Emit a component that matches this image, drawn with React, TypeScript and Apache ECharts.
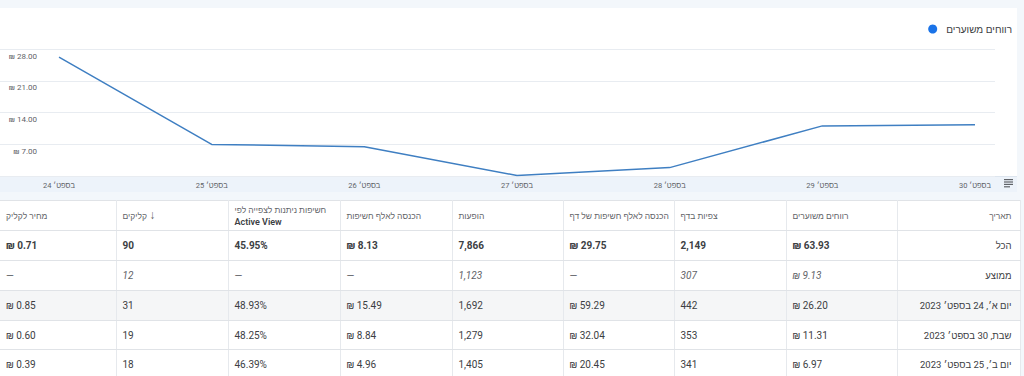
import React, { useEffect, useRef } from "react";
import * as echarts from "echarts";

const FONT = 'Roboto, "Liberation Sans", Arial, sans-serif';

// ---- chart data ----
const seriesName = "רווחים משוערים";
const chartDates = ["24 בספט׳", "25 בספט׳", "26 בספט׳", "27 בספט׳", "28 בספט׳", "29 בספט׳", "30 בספט׳"];
const earnings = [26.2, 6.97, 6.45, 0.1, 1.85, 11.05, 11.31];
const yMin = 0;
const yMax = 28;
const yStep = 7;

// ---- table data (right-to-left column order) ----
const tableHeaders = [
  "תאריך",
  "רווחים משוערים",
  "צפיות בדף",
  "הכנסה לאלף חשיפות של דף",
  "הופעות",
  "הכנסה לאלף חשיפות",
  "חשיפות ניתנות לצפייה לפי|Active View",
  "קליקים ↓",
  "מחיר לקליק",
];
const rowTotal = ["הכל", "₪ 63.93", "2,149", "₪ 29.75", "7,866", "₪ 8.13", "45.95%", "90", "₪ 0.71"];
const rowAverage = ["ממוצע", "₪ 9.13", "307", "—", "1,123", "—", "—", "12", "—"];
const rowSep24 = ["יום א׳, 24 בספט׳ 2023", "₪ 26.20", "442", "₪ 59.29", "1,692", "₪ 15.49", "48.93%", "31", "₪ 0.85"];
const rowSep30 = ["שבת, 30 בספט׳ 2023", "₪ 11.31", "353", "₪ 32.04", "1,279", "₪ 8.84", "48.25%", "19", "₪ 0.60"];
const rowSep25 = ["יום ב׳, 25 בספט׳ 2023", "₪ 6.97", "341", "₪ 20.45", "1,405", "₪ 4.96", "46.39%", "18", "₪ 0.39"];

// column widths from right to left
const colWidths = [123, 111, 112, 111, 111, 112, 112, 112, 116];

function Chart() {
  const ref = useRef<HTMLDivElement>(null);
  useEffect(() => {
    if (!ref.current) return;
    const chart = echarts.init(ref.current, undefined, { renderer: "svg" });
    chart.setOption({
      animation: false,
      textStyle: { fontFamily: FONT },
      legend: {
        right: 7,
        top: 19,
        icon: "circle",
        itemWidth: 9,
        itemHeight: 9,
        textStyle: { fontSize: 10, color: "#3c4043", padding: [0, 0, 0, 4] },
        data: [seriesName],
      },
      grid: { left: 0, right: 29, top: 49, bottom: 24 },
      xAxis: {
        type: "value",
        min: -0.3865,
        max: 6.131,
        axisLine: { show: false },
        axisTick: { show: false },
        splitLine: { show: false },
        axisLabel: {
          customValues: chartDates.map((_, i) => i),
          formatter: (v: number) => {
            const r = Math.round(v);
            return Math.abs(v - r) < 1e-6 && r >= 0 && r < chartDates.length ? chartDates[r] : "";
          },
          fontSize: 7.5,
          color: "#5f6368",
          margin: 5,
          showMinLabel: true,
          showMaxLabel: true,
        },
      },
      yAxis: {
        type: "value",
        min: yMin,
        max: yMax,
        interval: yStep,
        axisLine: { show: false },
        axisTick: { show: false },
        splitLine: { lineStyle: { color: "#e8ecf1", width: 1 } },
        axisLabel: {
          inside: true,
          align: "right",
          margin: 37,
          verticalAlign: "top",
          padding: [3, 0, 0, 0],
          fontSize: 8,
          color: "#5f6368",
          formatter: (v: number) => (v === 0 ? "" : "₪ " + v.toFixed(2)),
        },
      },
      series: [
        {
          type: "line",
          name: seriesName,
          data: earnings.map((v, i) => [i, v]),
          symbol: "none",
          showSymbol: false,
          lineStyle: { color: "#3f7fc2", width: 1.5 },
          itemStyle: { color: "#1a73e8" },
        },
      ],
      graphic: [
        {
          type: "group",
          left: 1004,
          top: 179,
          children: [
            { type: "rect", shape: { x: 0, y: 0, width: 9, height: 1.2 }, style: { fill: "#5f6368" } },
            { type: "rect", shape: { x: 0, y: 2.4, width: 9, height: 1.2 }, style: { fill: "#5f6368" } },
            { type: "rect", shape: { x: 0, y: 4.8, width: 9, height: 1.2 }, style: { fill: "#5f6368" } },
            { type: "rect", shape: { x: 0, y: 7.2, width: 6, height: 1.2 }, style: { fill: "#5f6368" } },
          ],
        },
      ],
    });
    return () => chart.dispose();
  }, []);
  return <div ref={ref} style={{ position: "absolute", left: 0, top: 0, width: 1024, height: 200 }} />;
}

const rows = [
  { cells: rowTotal, bold: true, italic: false, bg: "#ffffff", h: 30 },
  { cells: rowAverage, bold: false, italic: true, bg: "#ffffff", h: 30 },
  { cells: rowSep24, bold: false, italic: false, bg: "#f5f6f7", h: 30 },
  { cells: rowSep30, bold: false, italic: false, bg: "#ffffff", h: 29 },
  { cells: rowSep25, bold: false, italic: false, bg: "#ffffff", h: 30 },
];

function headerContent(text: string) {
  const parts = text.split("|");
  if (parts[1]) {
    return (
      <>
        {parts[0]}
        <br />
        <span style={{ fontWeight: 600, color: "#3c4043", fontSize: 9 }}>{parts[1]}</span>
      </>
    );
  }
  if (text.endsWith("↓")) {
    return (
      <>
        {text.slice(0, -1)}
        <span style={{ fontSize: 12, color: "#5f6368" }}>↓</span>
      </>
    );
  }
  return text;
}

function Table() {
  const order = tableHeaders.map((_, i) => tableHeaders.length - 1 - i); // visual left-to-right
  const cellBase: React.CSSProperties = {
    borderRight: "1px solid #e6e9ed",
    borderBottom: "1px solid #e0e3e7",
    padding: "0 6px",
    overflow: "hidden",
    whiteSpace: "nowrap",
    boxSizing: "border-box",
  };
  return (
    <table
      style={{
        position: "absolute",
        left: 0,
        top: 200,
        width: 1020,
        borderCollapse: "collapse",
        tableLayout: "fixed",
        background: "#ffffff",
        fontFamily: FONT,
        borderTop: "1px solid #e0e3e7",
      }}
    >
      <colgroup>
        {order.map((ci) => (
          <col key={ci} style={{ width: colWidths[ci] }} />
        ))}
      </colgroup>
      <tbody>
        <tr style={{ height: 30 }}>
          {order.map((ci) => {
            const isDate = ci === 0;
            return (
              <td
                key={ci}
                style={{
                  ...cellBase,
                  textAlign: isDate ? "right" : "left",
                  direction: isDate ? "rtl" : "ltr",
                  fontSize: 8.5,
                  color: "#5f6368",
                  lineHeight: "12px",
                  verticalAlign: "middle",
                  paddingRight: isDate ? 8 : 6,
                }}
              >
                {headerContent(tableHeaders[ci])}
              </td>
            );
          })}
        </tr>
        {rows.map((r, ri) => (
          <tr key={ri} style={{ height: r.h, background: r.bg }}>
            {order.map((ci) => {
              const isDate = ci === 0;
              const val = r.cells[ci];
              const italic = r.italic && !isDate && val !== "—";
              return (
                <td
                  key={ci}
                  style={{
                    ...cellBase,
                    textAlign: isDate ? "right" : "left",
                    direction: isDate ? "rtl" : "ltr",
                    fontSize: isDate ? 9.5 : 10,
                    fontWeight: r.bold && !isDate ? 700 : 400,
                    fontStyle: italic ? "italic" : "normal",
                    color: r.italic && !isDate ? "#5f6368" : "#3c4043",
                    verticalAlign: "middle",
                    paddingRight: isDate ? 8 : 6,
                  }}
                >
                  {val}
                </td>
              );
            })}
          </tr>
        ))}
      </tbody>
    </table>
  );
}

export default function App() {
  return (
    <div
      style={{
        position: "absolute",
        left: 0,
        top: 0,
        width: 1024,
        height: 376,
        background: "#f3f7fb",
        overflow: "hidden",
        fontFamily: FONT,
      }}
    >
      <div style={{ position: "absolute", left: 0, top: 8, width: 1017, height: 168, background: "#ffffff" }} />
      <div
        style={{
          position: "absolute",
          left: 0,
          top: 176,
          width: 1017,
          height: 16,
          background: "#edf3fa",
          borderTop: "1px solid #dde5ee",
          boxSizing: "border-box",
        }}
      />
      <Chart />
      <Table />
    </div>
  );
}
